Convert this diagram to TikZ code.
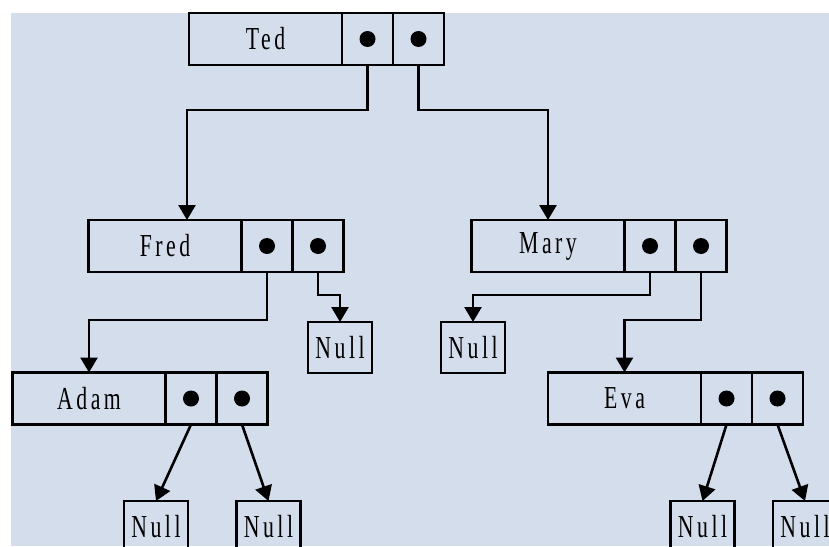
\documentclass[tikz,border=0pt]{standalone}
\usepackage{fontspec}
\usepackage{xcolor}
\usepackage{tikz}
\usetikzlibrary{positioning,arrows.meta}
\newfontfamily\recfont[FakeStretch=0.68,LetterSpace=11]{Liberation Serif}
\definecolor{panel}{RGB}{211,221,235}

\begin{document}
\begin{tikzpicture}[x=1pt,y=-1pt,line width=2.6pt,
    font=\recfont\fontsize{32pt}{32pt}\selectfont,
    namecell/.style={draw,minimum width=153pt,minimum height=52pt,inner sep=0pt,outer sep=0pt},
    ptrcell/.style={draw,minimum width=51pt,minimum height=52pt,inner sep=0pt,outer sep=0pt,
        path picture={\fill (path picture bounding box.center) circle (8pt);}},
    nullbox/.style={draw,minimum width=64pt,minimum height=51pt,inner sep=0pt,outer sep=0pt},
    link/.style={-{Triangle[width=17pt,length=15pt]}}]
    \useasboundingbox (0,0) rectangle (829,546);
    \clip (0,0) rectangle (829,546);
    \fill[panel] (11,13) rectangle (829,546);

    % Root
    \node[namecell] (ted) at (265.5,39) {Ted};
    \node[ptrcell,right=0pt of ted] (tedL) {};
    \node[ptrcell,right=0pt of tedL] (tedR) {};

    % Second level
    \node[namecell] (fred) at (165,246) {Fred};
    \node[ptrcell,right=0pt of fred] (fredL) {};
    \node[ptrcell,right=0pt of fredL] (fredR) {};

    \node[namecell] (mary) at (548,246) {Mary};
    \node[ptrcell,right=0pt of mary] (maryL) {};
    \node[ptrcell,right=0pt of maryL] (maryR) {};

    \node[nullbox] (fredNull) at (340,347.5) {Null};
    \node[nullbox] (maryNull) at (473,347.5) {Null};

    % Third level
    \node[namecell] (adam) at (89,398.5) {Adam};
    \node[ptrcell,right=0pt of adam] (adamL) {};
    \node[ptrcell,right=0pt of adamL] (adamR) {};

    \node[namecell] (eva) at (624.5,398.5) {Eva};
    \node[ptrcell,right=0pt of eva] (evaL) {};
    \node[ptrcell,right=0pt of evaL] (evaR) {};

    % Leaves
    \node[nullbox] (adamNullL) at (156,526.5) {Null};
    \node[nullbox] (adamNullR) at (268.5,526.5) {Null};
    \node[nullbox] (evaNullL) at (702.5,526.5) {Null};
    \node[nullbox] (evaNullR) at (805,526.5) {Null};

    % Pointers
    \draw[link] (tedL.south) -- ++(0,45) -| ([xshift=22pt]fred.north);
    \draw[link] (tedR.south) -- ++(0,45) -| (mary.north);
    \draw[link] (fredL.south) -- ++(0,48) -| (adam.north);
    \draw[link] (fredR.south) -- ++(0,23) -| (fredNull.north);
    \draw[link] (maryL.south) -- ++(0,23) -| (maryNull.north);
    \draw[link] (maryR.south) -- ++(0,48) -| (eva.north);
    \draw[link] (adamL.south) -- (adamNullL.north);
    \draw[link] (adamR.south) -- (adamNullR.north);
    \draw[link] (evaL.south) -- (evaNullL.north);
    \draw[link] (evaR.south) -- (evaNullR.north);
\end{tikzpicture}
\end{document}
